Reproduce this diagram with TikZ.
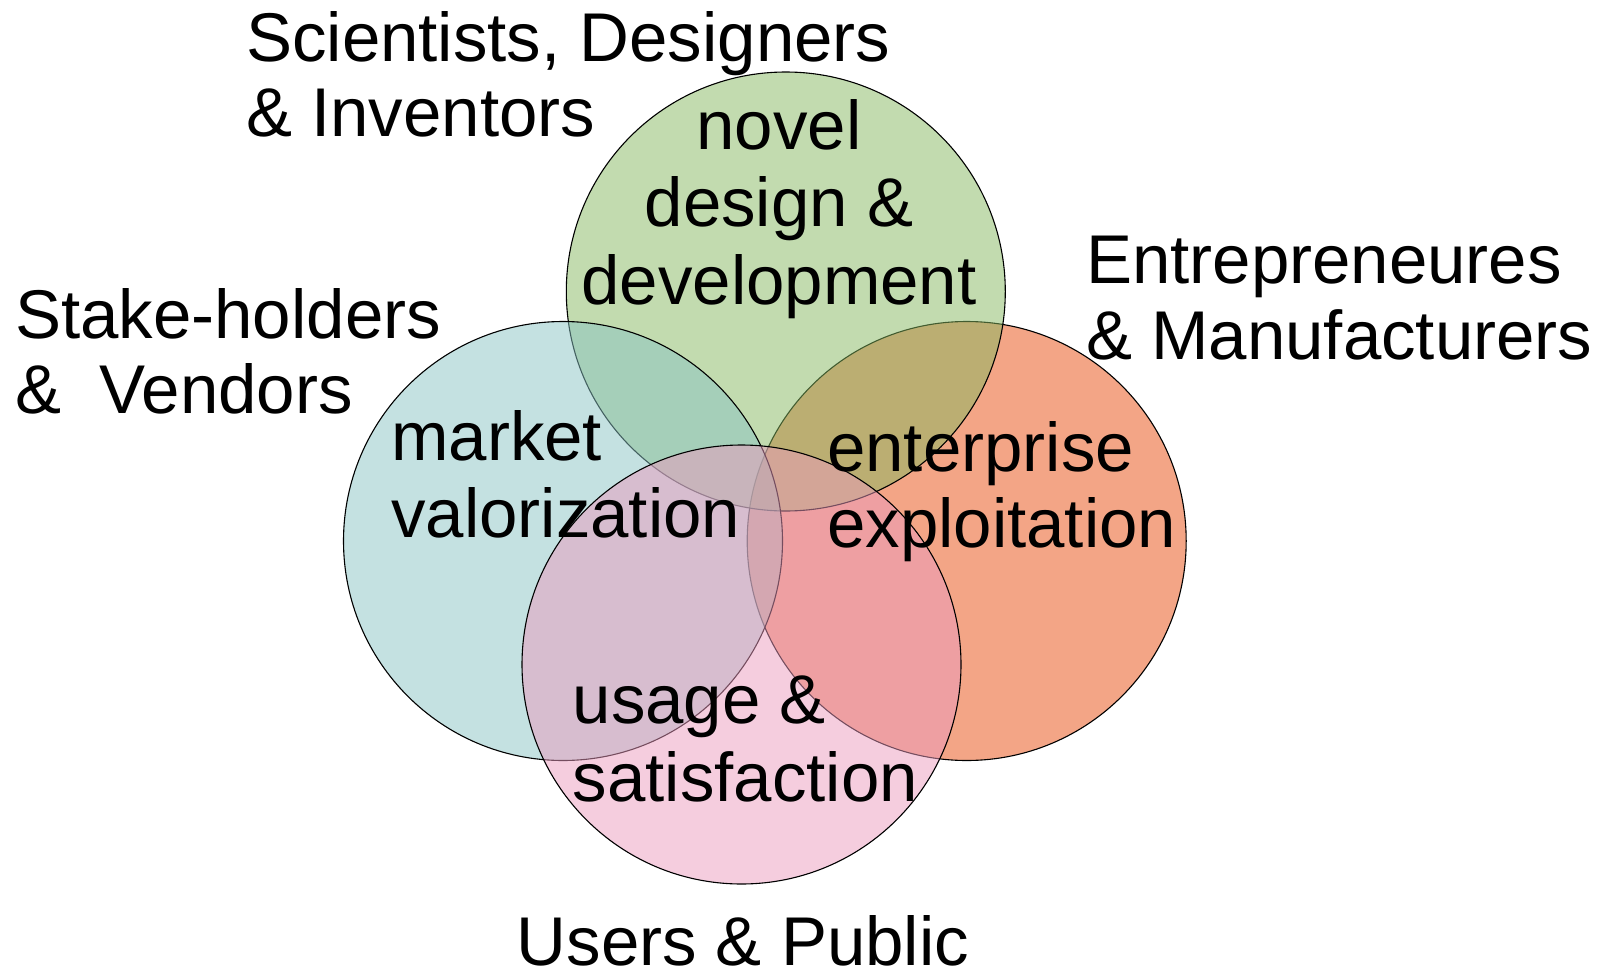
\documentclass[tikz,border=0pt]{standalone}
\usepackage{fontspec}
\setmainfont{Liberation Sans}
\begin{document}
\begin{tikzpicture}[x=1pt,y=-1pt,
  set/.style={circle,inner sep=0pt,minimum size=439pt,draw=black,line width=1.1pt,fill opacity=0.5},
  lbl/.style={anchor=base west,inner sep=0pt,font=\fontsize{69}{76}\selectfont},
  clbl/.style={anchor=base,inner sep=0pt,font=\fontsize{69}{76}\selectfont}]
\definecolor{cgreen}{HTML}{85B860}
\definecolor{cteal}{HTML}{89C3C3}
\definecolor{corange}{HTML}{E74C0E}
\definecolor{cpink}{HTML}{EB9BBE}
\useasboundingbox (0,0) rectangle (1610,977);

% the four sets, back to front
\node[set,fill=corange] (exploit) at (966.7,541.0) {};
\node[set,fill=cgreen]  (design)  at (785.8,291.5) {};
\node[set,fill=cteal]   (market)  at (563.0,541.0) {};
\node[set,fill=cpink]   (usage)   at (741.5,664.5) {};

% labels inside the sets
\node[clbl] (nov1) at (779,149.5) {novel};
\node[clbl] (nov2) at (779,226.5) {design \&};
\node[clbl] (nov3) at (779,304.5) {development};

\node[lbl] (mkt1) at (391,460) {market};
\node[lbl] (mkt2) at (391,537) {valorization};

\node[lbl] (ent1) at (827,471) {enterprise};
\node[lbl] (ent2) at (827,547.5) {exploitation};

\node[lbl] (use1) at (572.5,723.5) {usage \&};
\node[lbl] (use2) at (572.5,801) {satisfaction};

% actors around the diagram
\node[lbl] (sci1) at (246,61.6) {Scientists, Designers};
\node[lbl] (sci2) at (246,136.6) {\& Inventors};

\node[lbl] (stk1) at (15,338.8) {Stake-holders};
\node[lbl] (stk2) at (15,413.8) {\&\ \ Vendors};

\node[lbl] (ent3) at (1086,283.4) {Entrepreneures};
\node[lbl] (ent4) at (1086,359.4) {\& Manufacturers};

\node[lbl] (pub) at (516.5,965) {Users \& Public};
\end{tikzpicture}
\end{document}
